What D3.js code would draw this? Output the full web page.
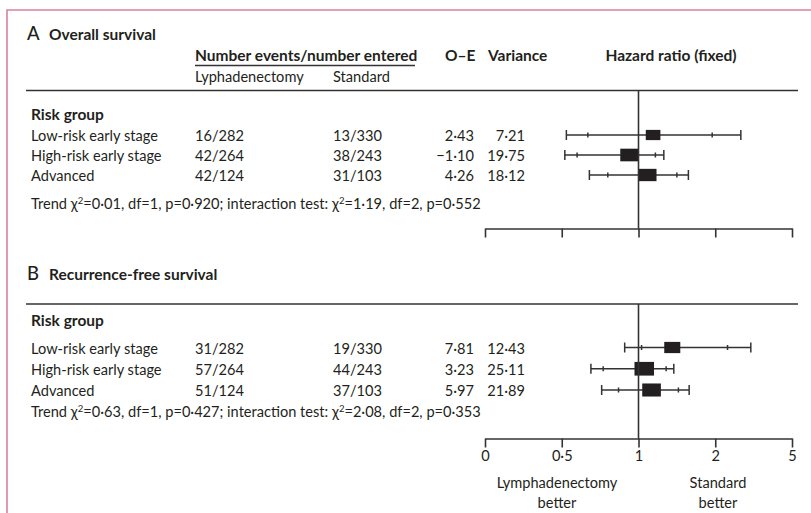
<!DOCTYPE html>
<html>
<head>
<meta charset="utf-8">
<script src="https://cdn.jsdelivr.net/npm/d3@7"></script>
<style>
  body { margin: 0; background: #fff; }
  text { font-family: Lato, "Noto Sans", sans-serif; fill: #231f20; }
</style>
</head>
<body>
<div id="chart"></div>
<script>
// categories and axis
const groups = ["Low-risk early stage", "High-risk early stage", "Advanced"];
const tickValues = [0, 0.5, 1, 2, 5];
const tickLabels = ["0", "0·5", "1", "2", "5"];

// A overall survival
const osLymph = ["16/282", "42/264", "42/124"];
const osStd = ["13/330", "38/243", "31/103"];
const osOE = [2.43, -1.10, 4.26];
const osVar = [7.21, 19.75, 18.12];
const osHR = [1.19, 0.94, 1.12];
const osLo95 = [0.67, 0.60, 0.80];
const osHi95 = [1.96, 1.22, 1.50];
const osLo99 = [0.53, 0.52, 0.68];
const osHi99 = [3.00, 1.33, 1.65];
const osTrend = [0.01, 1, 0.920];
const osInter = [1.19, 2, 0.552];

// B recurrence-free survival
const rfLymph = ["31/282", "57/264", "51/124"];
const rfStd = ["19/330", "44/243", "37/103"];
const rfOE = [7.81, 3.23, 5.97];
const rfVar = [12.43, 25.11, 21.89];
const rfHR = [1.44, 1.075, 1.17];
const rfLo95 = [1.04, 0.77, 0.87];
const rfHi95 = [2.48, 1.36, 1.52];
const rfLo99 = [0.91, 0.69, 0.76];
const rfHi99 = [3.39, 1.46, 1.66];
const rfTrend = [0.63, 1, 0.427];
const rfInter = [2.08, 2, 0.353];

const width = 811, height = 513;
const ink = "#231f20", lineCol = "#333";
const fs = "14.6px", fsBold = "15.5px";

const fmt2 = v => d3.format(".2f")(v).replace(".", "·").replace("-", "–");
const fmt3 = v => d3.format(".3f")(v).replace(".", "·");

const svg = d3.select("#chart").append("svg")
    .attr("width", width).attr("height", height)
    .attr("viewBox", `0 0 ${width} ${height}`);

// pink frame (top + left)
svg.append("path")
    .attr("d", `M7,${height} V10 H${width}`)
    .attr("fill", "none")
    .attr("stroke", "#d9819d")
    .attr("stroke-width", 1.6);

// hazard ratio scale, ticks equally spaced as in the figure
const x = d3.scaleLinear()
    .domain(tickValues)
    .range(tickValues.map((d, i) => 485 + i * 76.75));

const size = d3.scaleLinear().domain([5, 25]).range([14, 19.5]);

function panel(p) {
    const g = svg.append("g");
    const rows = groups.map((name, i) => ({
        name, lymph: p.lymph[i], std: p.std[i], oe: p.oe[i], v: p.variance[i],
        hr: p.hr[i], lo95: p.lo95[i], hi95: p.hi95[i], lo99: p.lo99[i], hi99: p.hi99[i]
    }));
    const y = d3.scalePoint().domain(groups).range(p.rowRange);

    // title
    g.append("text").attr("x", 27).attr("y", p.titleY)
        .style("font-size", "18.5px").style("font-weight", "500").text(p.letter);
    g.append("text").attr("x", 49).attr("y", p.titleY)
        .style("font-size", fsBold).style("font-weight", "700").text(p.title);

    // rule under header
    g.append("line").attr("x1", 26).attr("x2", 798)
        .attr("y1", p.ruleY).attr("y2", p.ruleY)
        .attr("stroke", lineCol).attr("stroke-width", 1.4);

    g.append("text").attr("x", 31).attr("y", p.riskY)
        .style("font-size", fsBold).style("font-weight", "700").text("Risk group");

    const row = g.selectAll(".row").data(rows).enter().append("g")
        .attr("class", "row")
        .attr("transform", d => `translate(0,${y(d.name)})`);

    row.append("text").attr("x", 31).attr("y", 6).style("font-size", fs).text(d => d.name);
    row.append("text").attr("x", 195).attr("y", 6).style("font-size", fs).text(d => d.lymph);
    row.append("text").attr("x", 333).attr("y", 6).style("font-size", fs).text(d => d.std);
    row.append("text").attr("x", 474).attr("y", 6).attr("text-anchor", "end")
        .style("font-size", fs).text(d => fmt2(d.oe));
    row.append("text").attr("x", 525).attr("y", 6).attr("text-anchor", "end")
        .style("font-size", fs).text(d => fmt2(d.v));

    // reference line at 1
    g.append("line").attr("x1", x(1)).attr("x2", x(1))
        .attr("y1", p.ruleY).attr("y2", p.axisY)
        .attr("stroke", lineCol).attr("stroke-width", 1.6);

    // whiskers
    row.append("line").attr("x1", d => x(d.lo99)).attr("x2", d => x(d.hi99))
        .attr("stroke", lineCol).attr("stroke-width", 1.5);
    ["lo99", "hi99"].forEach(k => {
        row.append("line").attr("x1", d => x(d[k])).attr("x2", d => x(d[k]))
            .attr("y1", -5).attr("y2", 5)
            .attr("stroke", lineCol).attr("stroke-width", 1.5);
    });
    ["lo95", "hi95"].forEach(k => {
        row.append("line").attr("x1", d => x(d[k])).attr("x2", d => x(d[k]))
            .attr("y1", -2.5).attr("y2", 2.5)
            .attr("stroke", lineCol).attr("stroke-width", 1.5);
    });
    row.append("rect")
        .attr("x", d => x(d.hr) - size(d.v) / 2)
        .attr("y", d => -size(d.v) * 0.35)
        .attr("width", d => size(d.v))
        .attr("height", d => size(d.v) * 0.7)
        .attr("fill", ink);

    // trend line
    const t = g.append("text").attr("x", 31).attr("y", p.trendY).style("font-size", fs);
    t.append("tspan").text("Trend χ");
    t.append("tspan").attr("dy", -5).style("font-size", "9.5px").text("2");
    t.append("tspan").attr("dy", 5)
        .text(`=${fmt2(p.trend[0])}, df=${p.trend[1]}, p=${fmt3(p.trend[2])}; interaction test: χ`);
    t.append("tspan").attr("dy", -5).style("font-size", "9.5px").text("2");
    t.append("tspan").attr("dy", 5)
        .text(`=${fmt2(p.inter[0])}, df=${p.inter[1]}, p=${fmt3(p.inter[2])}`);

    // axis
    const axis = d3.axisBottom(x).tickValues(tickValues).tickSize(9).tickSizeOuter(0)
        .tickFormat((d, i) => p.labels ? tickLabels[i] : "");
    const ax = g.append("g").attr("transform", `translate(0,${p.axisY})`).call(axis);
    ax.selectAll("path, line").attr("stroke", lineCol).attr("stroke-width", 1.6);
    ax.selectAll("text").style("font-size", fs).style("font-family", "Lato, sans-serif")
        .attr("fill", ink);
    return g;
}

// header for panel A
svg.append("text").attr("x", 195).attr("y", 61)
    .style("font-size", fsBold).style("font-weight", "700").text("Number events/number entered");
svg.append("line").attr("x1", 195).attr("x2", 415).attr("y1", 65.5).attr("y2", 65.5)
    .attr("stroke", lineCol).attr("stroke-width", 1.3);
svg.append("text").attr("x", 195).attr("y", 82).style("font-size", fs).text("Lyphadenectomy");
svg.append("text").attr("x", 333).attr("y", 82).style("font-size", fs).text("Standard");
svg.append("text").attr("x", 445).attr("y", 61)
    .style("font-size", fsBold).style("font-weight", "700").text("O–E");
svg.append("text").attr("x", 488).attr("y", 61)
    .style("font-size", fsBold).style("font-weight", "700").text("Variance");
svg.append("text").attr("x", 671).attr("y", 61).attr("text-anchor", "middle")
    .style("font-size", fsBold).style("font-weight", "700").text("Hazard ratio (fixed)");

panel({
    letter: "A", title: "Overall survival", titleY: 40, ruleY: 90.5, riskY: 120,
    rowRange: [135, 175], trendY: 209, axisY: 228.5, labels: false,
    lymph: osLymph, std: osStd, oe: osOE, variance: osVar, hr: osHR,
    lo95: osLo95, hi95: osHi95, lo99: osLo99, hi99: osHi99, trend: osTrend, inter: osInter
});

panel({
    letter: "B", title: "Recurrence-free survival", titleY: 280, ruleY: 304, riskY: 326,
    rowRange: [347.5, 390], trendY: 417, axisY: 438.5, labels: true,
    lymph: rfLymph, std: rfStd, oe: rfOE, variance: rfVar, hr: rfHR,
    lo95: rfLo95, hi95: rfHi95, lo99: rfLo99, hi99: rfHi99, trend: rfTrend, inter: rfInter
});

// direction labels
[["Lymphadenectomy", "better", 557], ["Standard", "better", 718]].forEach(([a, b, cx]) => {
    svg.append("text").attr("x", cx).attr("y", 488).attr("text-anchor", "middle")
        .style("font-size", fs).text(a);
    svg.append("text").attr("x", cx).attr("y", 508).attr("text-anchor", "middle")
        .style("font-size", fs).text(b);
});
</script>
</body>
</html>
